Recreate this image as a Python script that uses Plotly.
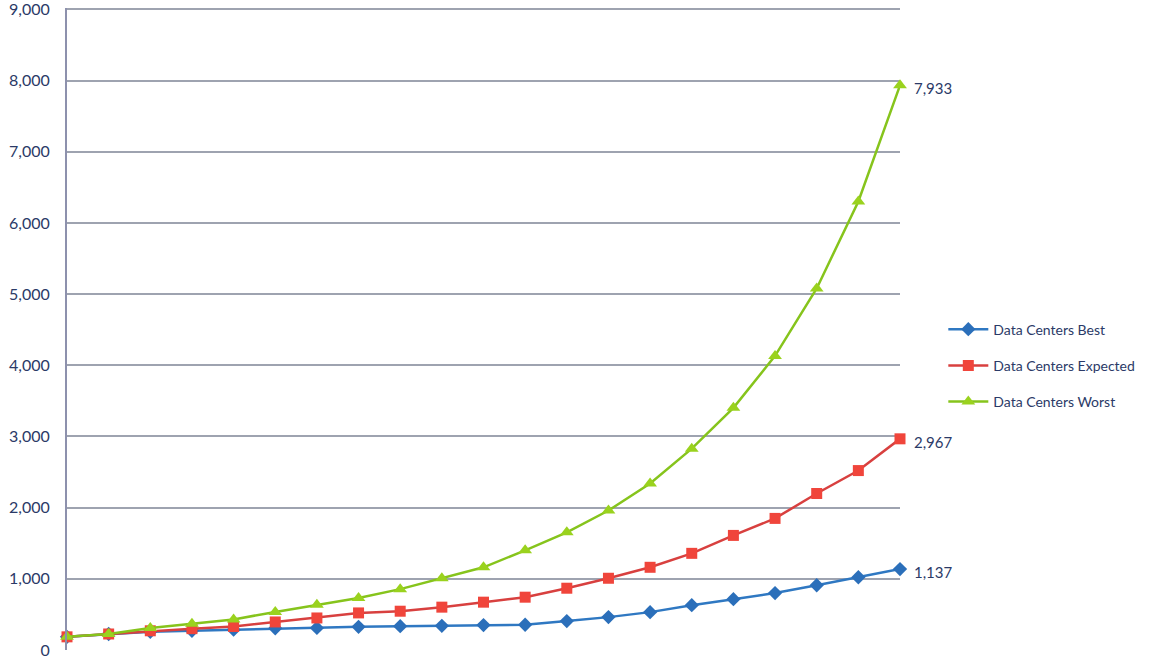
import plotly.graph_objects as go

periods = list(range(21))
best = [185, 225, 255, 270, 285, 305, 310, 325, 335, 340, 350, 355, 406, 462, 532, 630, 714, 800, 910, 1022, 1137]
expected = [185, 225, 270, 300, 330, 394, 450, 521, 545, 602, 672, 742, 868, 1008, 1162, 1358, 1610, 1849, 2199, 2521, 2967]
worst = [185, 225, 310, 370, 430, 535, 634, 732, 855, 1008, 1162, 1400, 1653, 1960, 2339, 2829, 3403, 4132, 5080, 6302, 7933]
names = ["Data Centers Best", "Data Centers Expected", "Data Centers Worst"]
end_labels = ["1,137", "2,967", "7,933"]
y_ticks = list(range(0, 9001, 1000))

series = [best, expected, worst]
line_colors = ["#2f78c2", "#d8403f", "#86c41c"]
marker_colors = ["#2b6fba", "#f0453b", "#9ad21e"]
symbols = ["diamond", "square", "triangle-up"]
sizes = [11, 11, 12]

FONT = "Lato, Open Sans, sans-serif"

fig = go.Figure()
for i, (nm, vals) in enumerate(zip(names, series)):
    fig.add_trace(go.Scatter(
        x=periods, y=vals, name=nm, mode="lines+markers",
        line=dict(color=line_colors[i], width=2.5),
        marker=dict(symbol=symbols[i], size=sizes[i], color=marker_colors[i]),
        legendgroup=nm, cliponaxis=False,
    ))
    fig.add_annotation(x=periods[-1], y=vals[-1], text=end_labels[i], showarrow=False,
                       xanchor="left", xshift=12, yshift=-3,
                       font=dict(family=FONT, size=15, color="#2b3a67"))

fig.update_layout(
    width=1170, height=659,
    margin=dict(l=67, r=270, t=8, b=9),
    plot_bgcolor="white", paper_bgcolor="white",
    showlegend=True,
    legend=dict(x=1.052, y=0.443, xanchor="left", yanchor="middle",
                traceorder="grouped", tracegroupgap=15, itemwidth=40,
                font=dict(family=FONT, size=14, color="#2b3a67"),
                bgcolor="rgba(0,0,0,0)"),
    xaxis=dict(range=[0, 20], showticklabels=False, showgrid=False, zeroline=False,
               showline=False, ticks="", automargin=False),
    yaxis=dict(range=[0, 9020], tickvals=y_ticks, tickformat=",d",
               showgrid=True, gridcolor="#9ea3b0", gridwidth=2,
               zeroline=False, showline=True, linecolor="#8d91ad", linewidth=2,
               ticks="", ticklabelstandoff=12, automargin=False,
               ticklabeloverflow="allow",
               tickfont=dict(family=FONT, size=16, color="#2b3a67")),
)

fig.write_html("out.html", config={"displayModeBar": False},
               post_script="document.body.style.margin='0';document.body.style.overflow='hidden';")
